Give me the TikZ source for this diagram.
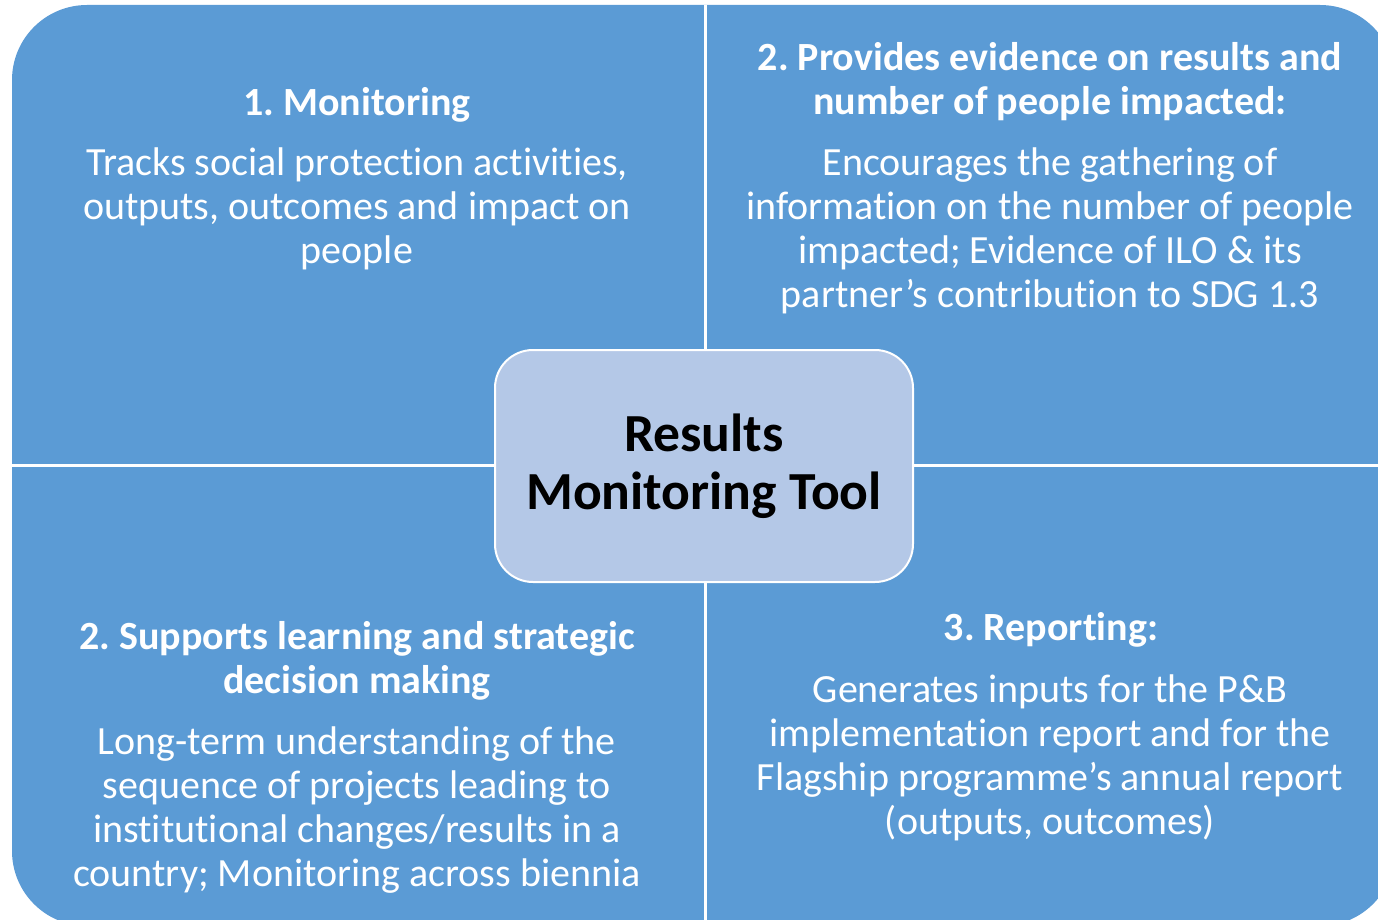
\documentclass[tikz,border=0pt]{standalone}
\usepackage{fontspec}
\setmainfont{Carlito}[Ligatures=NoCommon]
\frenchspacing
\definecolor{quadblue}{RGB}{91,155,213}
\definecolor{hubblue}{RGB}{180,200,231}
\tikzset{head/.style={text=white, align=center,
  font=\fontsize{20}{22}\selectfont\bfseries}}
\tikzset{body/.style={text=white, align=center,
  font=\fontsize{20}{22}\selectfont}}
\tikzset{hub/.style={draw=white, line width=1pt, fill=hubblue,
  rounded corners=19pt, minimum width=209pt, minimum height=116pt,
  align=center, font=\fontsize{26.8}{29}\selectfont\bfseries}}

\begin{document}
\begin{tikzpicture}[x=0.5pt,y=-0.5pt]
      \useasboundingbox (0, 0) rectangle (1378, 920);

      \fill [quadblue, rounded corners=37.5pt] (12, 5) rectangle (1395, 926);
      \draw [white, line width=1.5pt] (705, 5) -- (705, 926);
      \draw [white, line width=1.5pt] (12, 465) -- (1395, 465);

      \node [hub, text depth=4pt] (tool) at (704, 466) {Results\\Monitoring Tool};

      \node [head] (monitor) at (357, 105) {1. Monitoring};
      \node [body] (monitortxt) at (357, 209) {Tracks social protection activities,\\outputs, outcomes and impact on\\people};

      \node [head] (evidence) at (1050, 82) {2. Provides evidence on results and\\number of people impacted:};
      \node [body] (evidencetxt) at (1050, 231) {Encourages the gathering of\\information on the number of people\\impacted; Evidence of ILO \& its\\partner’s contribution to SDG 1.3};

      \node [head] (learning) at (357, 661) {2. Supports learning and strategic\\decision making};
      \node [body] (learningtxt) at (357, 810) {Long-term understanding of the\\sequence of projects leading to\\institutional changes/results in a\\country; Monitoring across biennia};

      \node [head] (reporting) at (1051, 630) {3. Reporting:};
      \node [body] (reportingtxt) at (1050, 758) {Generates inputs for the P\&B\\implementation report and for the\\Flagship programme’s annual report\\(outputs, outcomes)};
    \end{tikzpicture}
\end{document}
